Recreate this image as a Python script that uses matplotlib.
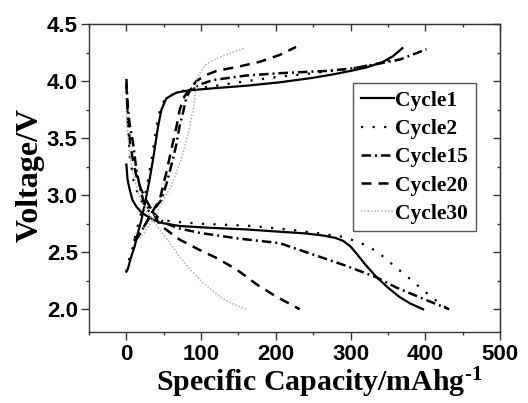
import matplotlib

matplotlib.use("Agg")
import matplotlib.pyplot as plt
from matplotlib.ticker import MultipleLocator

plt.rcParams["mathtext.fontset"] = "custom"
plt.rcParams["mathtext.rm"] = "Liberation Serif:bold"
plt.rcParams["mathtext.it"] = "Liberation Serif:bold"
plt.rcParams["mathtext.bf"] = "Liberation Serif:bold"

# charge / discharge curves, capacity in mAh/g and voltage in V
c1_chg_x = [0, 1, 2.2, 6, 11, 15, 20, 24.5, 30, 35.6, 42.3, 46.9, 53.5, 67, 84.7, 120, 160, 205, 250, 276.6, 300, 321, 343.5, 357, 369.4]
c1_chg_y = [2.33, 2.34, 2.36, 2.45, 2.55, 2.66, 2.78, 2.92, 3.10, 3.31, 3.60, 3.75, 3.85, 3.90, 3.92, 3.94, 3.96, 3.99, 4.03, 4.06, 4.09, 4.12, 4.17, 4.22, 4.29]
c1_dis_x = [0, 1.5, 4.4, 8, 13.4, 20, 26.8, 35, 44.6, 71.4, 110, 160.6, 205, 240, 265, 280, 290, 300, 307.8, 320, 335, 350, 365, 380, 397]
c1_dis_y = [3.27, 3.14, 3.05, 2.96, 2.90, 2.85, 2.82, 2.79, 2.76, 2.73, 2.715, 2.70, 2.68, 2.665, 2.645, 2.625, 2.60, 2.55, 2.49, 2.39, 2.28, 2.19, 2.11, 2.05, 2.00]

c2_chg_x = [0, 1, 4, 9, 13, 18, 22.5, 28, 33.6, 40.3, 45, 52, 66, 84, 120, 160, 205, 250, 300, 340, 365]
c2_chg_y = [2.33, 2.36, 2.45, 2.55, 2.68, 2.80, 2.92, 3.10, 3.31, 3.60, 3.75, 3.85, 3.90, 3.93, 3.96, 4.00, 4.04, 4.07, 4.11, 4.16, 4.20]
c2_dis_x = [0, 2, 5, 10, 17, 27, 40, 60, 100, 170, 229, 258.8, 290, 305.6, 321.3, 336.8, 351, 365.9, 380.6, 394.9, 409.6, 423.8, 432]
c2_dis_y = [3.95, 3.60, 3.32, 3.12, 2.98, 2.88, 2.80, 2.77, 2.75, 2.73, 2.69, 2.665, 2.635, 2.60, 2.56, 2.50, 2.42, 2.34, 2.26, 2.18, 2.10, 2.03, 2.00]

c15_chg_x = [12, 18, 26, 34, 41, 47, 55, 62, 67, 71, 76, 80, 86, 98, 116, 160.6, 205, 268, 300, 335, 366, 401.6]
c15_chg_y = [2.60, 2.66, 2.75, 2.84, 2.91, 2.96, 3.13, 3.31, 3.45, 3.60, 3.73, 3.85, 3.93, 3.97, 4.01, 4.05, 4.07, 4.09, 4.11, 4.15, 4.19, 4.28]
c15_dis_x = [0, 1, 2.2, 4.4, 8.9, 13.4, 17.8, 22.3, 30, 40.2, 50, 70, 98.2, 150, 205, 249.8, 294.5, 334.7, 361.4, 401.6, 432]
c15_dis_y = [4.02, 3.88, 3.75, 3.62, 3.46, 3.22, 3.08, 2.96, 2.88, 2.82, 2.76, 2.71, 2.67, 2.62, 2.58, 2.48, 2.38, 2.28, 2.19, 2.08, 2.00]

c20_chg_x = [10, 16, 24, 32, 38, 44.6, 49, 53.5, 60.2, 67, 71.4, 78, 84.7, 93.7, 105, 120.5, 151.7, 178.5, 205, 227]
c20_chg_y = [2.60, 2.65, 2.73, 2.82, 2.89, 2.96, 3.08, 3.20, 3.40, 3.60, 3.75, 3.87, 3.93, 4.00, 4.05, 4.09, 4.13, 4.17, 4.23, 4.30]
c20_dis_x = [0, 1, 2.5, 5, 9, 13, 19, 28, 38, 44.6, 71.4, 98, 120.5, 147.3, 174, 200.8, 232]
c20_dis_y = [3.98, 3.80, 3.62, 3.45, 3.30, 3.18, 3.06, 2.94, 2.82, 2.74, 2.61, 2.52, 2.45, 2.35, 2.22, 2.11, 2.00]

c30_chg_x = [18, 25, 35, 45, 53, 60, 67, 73, 79, 84.7, 89, 91.4, 93, 95, 105, 120.5, 140, 158]
c30_chg_y = [2.62, 2.68, 2.78, 2.90, 3.00, 3.08, 3.20, 3.31, 3.45, 3.60, 3.74, 3.84, 3.93, 4.03, 4.14, 4.20, 4.25, 4.29]
c30_dis_x = [0, 1.5, 4, 8, 13, 19, 26.8, 35, 44.6, 58, 71.4, 85, 98, 112, 125, 142, 160]
c30_dis_y = [3.75, 3.55, 3.38, 3.22, 3.08, 2.96, 2.86, 2.78, 2.70, 2.58, 2.46, 2.35, 2.26, 2.18, 2.11, 2.05, 2.00]

labels = ["Cycle1", "Cycle2", "Cycle15", "Cycle20", "Cycle30"]

styles = [
    dict(color="black", lw=1.6, ls="-"),
    dict(color="black", lw=1.6, ls=(0, (1, 4.2))),
    dict(color="black", lw=1.8, ls=(0, (3.8, 1.6, 0.8, 1.6))),
    dict(color="black", lw=1.8, ls=(0, (4, 2.8))),
    dict(color="#b0b0b0", lw=1.1, ls=(0, (1, 1.2))),
]
curves = [
    (c1_chg_x, c1_chg_y, c1_dis_x, c1_dis_y),
    (c2_chg_x, c2_chg_y, c2_dis_x, c2_dis_y),
    (c15_chg_x, c15_chg_y, c15_dis_x, c15_dis_y),
    (c20_chg_x, c20_chg_y, c20_dis_x, c20_dis_y),
    (c30_chg_x, c30_chg_y, c30_dis_x, c30_dis_y),
]

fig = plt.figure(figsize=(5.28, 4.03), dpi=100)
ax = fig.add_axes([0.1686, 0.176, 0.7784, 0.764])

handles = []
for (cx, cy, dx, dy), st, lab in zip(curves, styles, labels):
    h, = ax.plot(cx, cy, label=lab, **st)
    ax.plot(dx, dy, **st)
    handles.append(h)

ax.set_xlim(-50, 500)
ax.set_ylim(1.8, 4.5)
ax.xaxis.set_minor_locator(MultipleLocator(50))
ax.yaxis.set_minor_locator(MultipleLocator(0.25))
ax.set_xticks([0, 100, 200, 300, 400, 500])
ax.set_xticklabels(["0", "100", "200", "300", "400", "500"])
ax.set_yticks([2.0, 2.5, 3.0, 3.5, 4.0, 4.5])
ax.set_yticklabels(["2.0", "2.5", "3.0", "3.5", "4.0", "4.5"])

for sp in ax.spines.values():
    sp.set_color("#333333")
    sp.set_linewidth(1.0)

ax.tick_params(which="both", direction="out", color="#333333", width=1.0)
ax.tick_params(which="major", length=5.5, pad=2.5)
ax.tick_params(which="minor", length=2.5)
ax.tick_params(axis="x", which="major", pad=3)

# mirrored ticks on top and right, pointing inward
top = ax.secondary_xaxis("top")
top.xaxis.set_major_locator(MultipleLocator(100))
top.xaxis.set_minor_locator(MultipleLocator(50))
right = ax.secondary_yaxis("right")
right.yaxis.set_major_locator(MultipleLocator(0.5))
right.yaxis.set_minor_locator(MultipleLocator(0.25))
for sec, side, axis in ((top, "top", top.xaxis), (right, "right", right.yaxis)):
    sec.tick_params(which="both", direction="in", color="#333333", width=1.0)
    sec.tick_params(which="major", length=5)
    sec.tick_params(which="minor", length=2.5)
    axis.set_ticklabels([])
    sec.spines[side].set_color("#333333")

for t in ax.get_xticklabels() + ax.get_yticklabels():
    t.set_fontfamily("Liberation Sans")
    t.set_fontweight("bold")
    t.set_fontsize(16)

ax.set_xlabel(r"Specific Capacity/mAhg$^{\text{-1}}$", fontfamily="Liberation Serif",
              fontweight="bold", fontsize=21.5)
ax.xaxis.set_label_coords(0.56, -0.108)
ax.set_ylabel("Voltage/V", fontfamily="Liberation Serif", fontweight="bold", fontsize=23)
ax.yaxis.set_label_coords(-0.108, 0.51)

leg = ax.legend(handles=handles, loc="upper left", bbox_to_anchor=(0.643, 0.808),
                prop=dict(family="Liberation Serif", weight="bold", size=15.5),
                handlelength=1.55, handletextpad=0.05, labelspacing=0.38,
                borderpad=0.35, borderaxespad=0, fancybox=False, framealpha=1)
leg.get_frame().set_edgecolor("#555555")
leg.get_frame().set_linewidth(1.0)

fig.savefig("out.png", dpi=100)
